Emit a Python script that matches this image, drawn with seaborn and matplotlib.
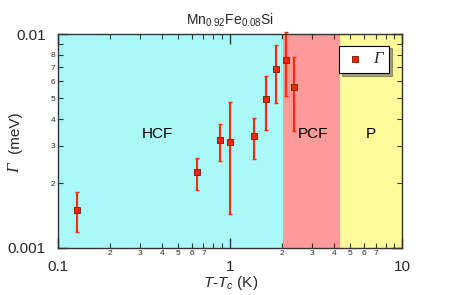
import numpy as np
import pandas as pd
import matplotlib
matplotlib.use("Agg")
import matplotlib.pyplot as plt
import matplotlib.ticker as mticker
import seaborn as sns

# Dados
t_minus_tc = [0.129, 0.642, 0.877, 1.002, 1.376, 1.622, 1.854, 2.12, 2.359]
gamma = [0.00150, 0.00225, 0.00318, 0.00311, 0.00332, 0.00495, 0.00684, 0.00753, 0.00567]
gamma_top = [0.00182, 0.00264, 0.00380, 0.00479, 0.00405, 0.00634, 0.00891, 0.0102, 0.00783]
gamma_bot = [0.00118, 0.00186, 0.00255, 0.00144, 0.00259, 0.00356, 0.00475, 0.00511, 0.00353]

# Limites das regiões (K) e posição dos rótulos
regions = ["HCF", "PCF", "P"]
region_edges = [0.1, 2.04, 4.36, 10]
region_label_x = [0.38, 3.03, 6.6]
region_colors = ["#abf8f8", "#ff9a9a", "#fffa99"]

data = pd.DataFrame({"T": t_minus_tc, "G": gamma, "top": gamma_top, "bot": gamma_bot})

sns.set_style("ticks")
plt.rcParams["font.family"] = ["Liberation Sans", "DejaVu Sans"]
plt.rcParams["mathtext.fontset"] = "custom"
plt.rcParams["mathtext.rm"] = "Liberation Sans"
plt.rcParams["mathtext.it"] = "Liberation Sans:italic"
plt.rcParams["mathtext.sf"] = "Liberation Sans:italic"

fig = plt.figure(figsize=(4.63, 2.95), dpi=100)
ax = fig.add_axes([0.1253, 0.1603, 0.7436, 0.7244])

# Fundo colorido das regiões
for i, name in enumerate(regions):
    ax.axvspan(region_edges[i], region_edges[i + 1], color=region_colors[i], zorder=0, lw=0)
    ax.text(region_label_x[i], 0.0034, name, ha="center", va="center", fontsize=11, color="black")

# Barras de erro
err = [data["G"] - data["bot"], data["top"] - data["G"]]
ax.errorbar(data["T"], data["G"], yerr=err, fmt="none", ecolor="#ff2a00",
            elinewidth=1.5, capsize=1.5, capthick=1, zorder=2, clip_on=False)

sns.scatterplot(data=data, x="T", y="G", ax=ax, marker="s", s=22, color="#ff2200",
                edgecolor="#7a2a1a", linewidth=0.7, zorder=3, label="Γ",
                clip_on=False)

ax.set_xscale("log")
ax.set_yscale("log")
ax.set_xlim(0.1, 10)
ax.set_ylim(0.001, 0.01)

ax.xaxis.set_major_formatter(mticker.FuncFormatter(lambda v, p: f"{v:g}"))
ax.yaxis.set_major_formatter(mticker.FuncFormatter(lambda v, p: f"{v:g}"))


def minor_fmt(allowed):
    def f(v, p):
        m = int(round(v / 10 ** np.floor(np.log10(v) + 1e-9)))
        return str(m) if m in allowed else ""
    return mticker.FuncFormatter(f)


ax.xaxis.set_minor_locator(mticker.LogLocator(base=10, subs=np.arange(2, 10)))
ax.yaxis.set_minor_locator(mticker.LogLocator(base=10, subs=np.arange(2, 10)))
ax.xaxis.set_minor_formatter(minor_fmt([2, 3, 4, 5, 6, 7]))
ax.yaxis.set_minor_formatter(minor_fmt([2, 3, 4, 5, 6, 7, 8]))

ax.tick_params(which="both", direction="in", top=True, right=True, color="#333333")
ax.tick_params(which="major", length=7, width=1, labelsize=11, pad=9)
ax.tick_params(which="minor", length=3.5, width=0.8, labelsize=6, pad=2)
for s in ax.spines.values():
    s.set_color("#333333")
    s.set_linewidth(1)

ax.set_xlabel(r"$\mathsf{T}$-$\mathsf{T}_\mathsf{c}$ (K)", fontsize=11, labelpad=0)
ax.set_ylabel("")
# rótulo do eixo y: Γ em itálico serifado + (meV)
ax.text(-0.125, 0.372, "Γ", rotation=90, ha="center", va="center", fontsize=12,
        family="Liberation Serif", style="italic", transform=ax.transAxes)
ax.text(-0.125, 0.54, "(meV)", rotation=90, ha="center", va="center", fontsize=11,
        transform=ax.transAxes)
ax.set_title(r"Mn$_{0.92}$Fe$_{0.08}$Si", fontsize=10, pad=7)

leg = ax.legend(loc="upper right", bbox_to_anchor=(0.985, 0.985), frameon=True,
                fancybox=False, shadow=True, fontsize=12, handletextpad=0.5,
                borderpad=0.35, handlelength=1.2, markerscale=1.0)
for t in leg.get_texts():
    t.set_family("Liberation Serif")
    t.set_style("italic")
leg.get_frame().set_edgecolor("black")
leg.get_frame().set_linewidth(0.8)
leg.get_frame().set_alpha(1)

fig.savefig("out.png", dpi=100)
